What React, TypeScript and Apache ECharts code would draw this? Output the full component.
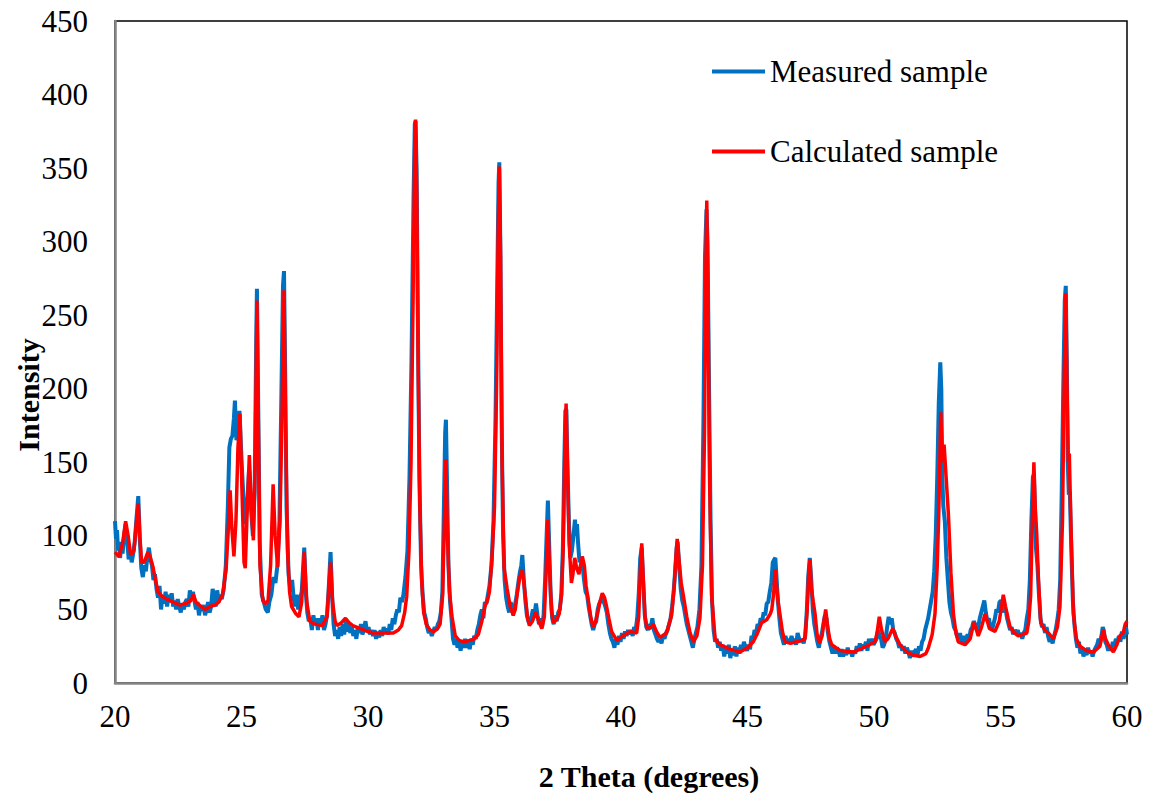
import { useEffect, useRef } from 'react';
import * as echarts from 'echarts';

const measuredSample: [number, number][] = [
  [20.0, 110], [20.04, 98], [20.08, 104], [20.12, 90], [20.16, 96], [20.2, 85], [20.25, 93], [20.3, 88],
  [20.36, 100], [20.42, 108], [20.48, 97], [20.54, 84], [20.6, 90], [20.66, 82], [20.72, 88], [20.78, 96],
  [20.85, 112], [20.92, 127], [20.98, 98], [21.04, 78], [21.1, 72], [21.16, 80], [21.22, 76], [21.28, 86],
  [21.34, 92], [21.4, 84], [21.46, 80], [21.52, 70], [21.58, 74], [21.64, 64], [21.7, 58], [21.76, 66],
  [21.82, 50], [21.88, 60], [21.94, 54], [22.0, 62], [22.06, 52], [22.12, 60], [22.18, 55], [22.24, 61],
  [22.3, 52], [22.36, 56], [22.42, 50], [22.48, 57], [22.54, 52], [22.6, 48], [22.66, 54], [22.72, 50],
  [22.78, 55], [22.84, 57], [22.9, 52], [22.96, 63], [23.02, 58], [23.08, 62], [23.14, 56], [23.2, 50],
  [23.26, 55], [23.32, 46], [23.38, 52], [23.44, 49], [23.5, 53], [23.56, 46], [23.62, 50], [23.68, 55],
  [23.74, 48], [23.8, 52], [23.86, 64], [23.92, 58], [23.98, 52], [24.04, 63], [24.1, 55], [24.16, 60],
  [24.22, 57], [24.3, 64], [24.38, 80], [24.46, 120], [24.52, 160], [24.58, 166], [24.64, 168], [24.7, 180],
  [24.74, 192], [24.8, 165], [24.86, 172], [24.92, 185], [24.98, 160], [25.04, 138], [25.1, 118], [25.16, 108],
  [25.22, 120], [25.3, 145], [25.38, 118], [25.45, 100], [25.52, 130], [25.58, 230], [25.61, 268], [25.66, 190],
  [25.72, 95], [25.8, 60], [25.88, 55], [25.96, 50], [26.04, 48], [26.1, 55], [26.18, 60], [26.26, 72],
  [26.34, 68], [26.42, 80], [26.5, 110], [26.58, 200], [26.64, 270], [26.68, 280], [26.72, 220], [26.78, 120],
  [26.86, 74], [26.94, 62], [27.0, 70], [27.06, 58], [27.12, 52], [27.18, 60], [27.24, 50], [27.3, 56],
  [27.38, 62], [27.44, 80], [27.48, 92], [27.54, 62], [27.6, 48], [27.66, 42], [27.72, 44], [27.78, 36],
  [27.84, 46], [27.9, 40], [27.96, 44], [28.02, 36], [28.08, 44], [28.14, 40], [28.2, 46], [28.26, 36],
  [28.32, 40], [28.38, 46], [28.44, 62], [28.52, 89], [28.58, 60], [28.64, 40], [28.7, 32], [28.76, 36],
  [28.82, 30], [28.88, 38], [28.94, 32], [29.0, 40], [29.06, 33], [29.12, 42], [29.18, 35], [29.24, 40],
  [29.3, 34], [29.36, 38], [29.42, 32], [29.48, 36], [29.54, 30], [29.6, 38], [29.66, 34], [29.72, 40],
  [29.78, 33], [29.84, 36], [29.9, 42], [29.96, 35], [30.02, 38], [30.08, 33], [30.14, 36], [30.2, 32],
  [30.26, 36], [30.32, 30], [30.38, 34], [30.44, 31], [30.5, 36], [30.56, 32], [30.62, 38], [30.68, 34],
  [30.74, 37], [30.8, 33], [30.86, 40], [30.92, 36], [30.98, 44], [31.04, 40], [31.1, 46], [31.16, 50],
  [31.22, 48], [31.28, 58], [31.34, 55], [31.4, 60], [31.48, 72], [31.56, 90], [31.64, 140], [31.72, 220],
  [31.8, 330], [31.85, 380], [31.88, 382], [31.92, 350], [31.97, 250], [32.03, 140], [32.1, 80], [32.16, 60],
  [32.22, 48], [32.28, 44], [32.34, 38], [32.4, 34], [32.46, 36], [32.52, 32], [32.58, 35], [32.64, 38],
  [32.7, 36], [32.76, 40], [32.82, 42], [32.88, 48], [32.94, 62], [33.0, 120], [33.05, 170], [33.08, 179],
  [33.12, 140], [33.18, 80], [33.24, 56], [33.3, 44], [33.36, 30], [33.42, 26], [33.48, 30], [33.54, 24],
  [33.6, 28], [33.66, 22], [33.72, 28], [33.78, 24], [33.84, 30], [33.9, 24], [33.96, 28], [34.02, 23],
  [34.08, 30], [34.14, 26], [34.2, 32], [34.26, 30], [34.32, 36], [34.38, 40], [34.44, 46], [34.5, 50],
  [34.56, 44], [34.62, 55], [34.68, 54], [34.74, 60], [34.8, 66], [34.88, 80], [34.96, 110], [35.04, 180],
  [35.1, 260], [35.16, 340], [35.19, 354], [35.23, 300], [35.28, 180], [35.34, 100], [35.4, 70], [35.46, 58],
  [35.52, 52], [35.58, 48], [35.64, 55], [35.7, 50], [35.76, 48], [35.82, 54], [35.88, 60], [35.94, 68],
  [36.0, 75], [36.06, 80], [36.1, 87], [36.16, 70], [36.22, 56], [36.28, 46], [36.34, 42], [36.4, 40],
  [36.46, 45], [36.52, 50], [36.58, 46], [36.64, 54], [36.7, 46], [36.76, 40], [36.82, 44], [36.88, 38],
  [36.94, 46], [37.0, 70], [37.06, 100], [37.11, 124], [37.16, 95], [37.22, 60], [37.28, 44], [37.34, 40],
  [37.4, 46], [37.46, 42], [37.52, 48], [37.58, 50], [37.64, 60], [37.7, 90], [37.76, 150], [37.8, 185],
  [37.84, 186], [37.88, 150], [37.94, 110], [38.0, 85], [38.06, 90], [38.12, 100], [38.18, 111], [38.22, 100],
  [38.26, 108], [38.3, 96], [38.36, 82], [38.42, 86], [38.48, 80], [38.54, 70], [38.6, 62], [38.66, 60],
  [38.72, 52], [38.78, 46], [38.84, 40], [38.9, 36], [38.96, 40], [39.02, 42], [39.08, 50], [39.14, 54],
  [39.2, 56], [39.26, 58], [39.32, 55], [39.38, 52], [39.44, 48], [39.5, 40], [39.56, 34], [39.62, 30],
  [39.68, 28], [39.74, 24], [39.8, 30], [39.86, 26], [39.92, 32], [39.98, 28], [40.04, 34], [40.1, 30],
  [40.16, 35], [40.22, 32], [40.28, 36], [40.34, 33], [40.4, 36], [40.46, 32], [40.52, 38], [40.58, 36],
  [40.64, 44], [40.7, 60], [40.76, 85], [40.82, 92], [40.88, 68], [40.94, 46], [41.0, 38], [41.06, 36],
  [41.12, 40], [41.18, 38], [41.24, 44], [41.3, 36], [41.36, 33], [41.42, 30], [41.48, 28], [41.54, 30],
  [41.6, 27], [41.66, 32], [41.72, 30], [41.78, 34], [41.84, 36], [41.9, 40], [41.96, 44], [42.02, 52],
  [42.08, 62], [42.14, 76], [42.2, 92], [42.24, 96], [42.3, 80], [42.36, 64], [42.42, 56], [42.48, 52],
  [42.54, 46], [42.6, 40], [42.66, 36], [42.72, 32], [42.78, 28], [42.84, 24], [42.9, 30], [42.96, 34],
  [43.02, 38], [43.1, 50], [43.18, 80], [43.26, 180], [43.32, 290], [43.38, 322], [43.42, 300], [43.48, 200],
  [43.54, 110], [43.6, 55], [43.66, 36], [43.72, 28], [43.78, 30], [43.84, 24], [43.9, 28], [43.96, 22],
  [44.02, 26], [44.08, 18], [44.14, 24], [44.2, 20], [44.26, 26], [44.32, 17], [44.38, 22], [44.44, 19],
  [44.5, 25], [44.56, 18], [44.62, 24], [44.68, 20], [44.74, 26], [44.8, 22], [44.86, 28], [44.92, 24],
  [44.98, 22], [45.04, 26], [45.1, 23], [45.16, 32], [45.22, 30], [45.28, 36], [45.34, 34], [45.4, 40],
  [45.46, 38], [45.52, 44], [45.58, 42], [45.64, 48], [45.7, 46], [45.76, 54], [45.82, 55], [45.88, 62],
  [45.94, 68], [46.0, 82], [46.06, 84], [46.1, 85], [46.14, 74], [46.2, 56], [46.26, 44], [46.32, 34],
  [46.38, 30], [46.44, 26], [46.5, 32], [46.56, 28], [46.62, 30], [46.68, 27], [46.74, 32], [46.8, 28],
  [46.86, 30], [46.92, 26], [46.98, 34], [47.04, 30], [47.1, 28], [47.16, 30], [47.22, 27], [47.28, 32],
  [47.34, 48], [47.4, 72], [47.46, 85], [47.52, 70], [47.58, 50], [47.64, 40], [47.7, 34], [47.76, 28],
  [47.82, 24], [47.88, 30], [47.94, 34], [48.0, 40], [48.06, 46], [48.12, 44], [48.18, 34], [48.24, 28],
  [48.3, 24], [48.36, 20], [48.42, 25], [48.48, 20], [48.54, 24], [48.6, 22], [48.66, 18], [48.72, 23],
  [48.78, 18], [48.84, 22], [48.9, 19], [48.96, 24], [49.02, 20], [49.08, 22], [49.14, 18], [49.2, 22],
  [49.26, 20], [49.32, 25], [49.38, 22], [49.44, 27], [49.5, 22], [49.56, 26], [49.62, 24], [49.68, 28],
  [49.74, 22], [49.8, 30], [49.86, 27], [49.92, 30], [49.98, 26], [50.04, 28], [50.1, 30], [50.16, 36],
  [50.22, 32], [50.28, 30], [50.34, 24], [50.4, 26], [50.46, 30], [50.52, 38], [50.58, 45], [50.64, 40],
  [50.7, 44], [50.76, 36], [50.82, 34], [50.88, 30], [50.94, 28], [51.0, 24], [51.06, 26], [51.12, 22],
  [51.18, 25], [51.24, 20], [51.3, 24], [51.36, 21], [51.42, 17], [51.48, 22], [51.54, 18], [51.6, 21],
  [51.66, 23], [51.72, 19], [51.78, 25], [51.84, 22], [51.9, 28], [51.96, 30], [52.02, 36], [52.08, 40],
  [52.14, 44], [52.2, 50], [52.26, 56], [52.32, 62], [52.38, 76], [52.44, 100], [52.5, 140], [52.56, 190],
  [52.62, 218], [52.66, 200], [52.7, 140], [52.74, 120], [52.8, 110], [52.86, 85], [52.92, 70], [52.98, 55],
  [53.04, 48], [53.1, 44], [53.16, 38], [53.22, 36], [53.28, 32], [53.34, 30], [53.4, 34], [53.46, 28],
  [53.52, 32], [53.58, 26], [53.64, 30], [53.7, 33], [53.76, 30], [53.82, 36], [53.88, 38], [53.94, 42],
  [54.0, 40], [54.06, 36], [54.12, 38], [54.18, 44], [54.24, 48], [54.3, 52], [54.36, 56], [54.42, 48],
  [54.48, 42], [54.54, 44], [54.6, 38], [54.66, 36], [54.72, 40], [54.78, 44], [54.84, 50], [54.9, 48],
  [54.96, 55], [55.02, 56], [55.08, 54], [55.14, 48], [55.2, 50], [55.26, 44], [55.32, 40], [55.38, 36],
  [55.44, 38], [55.5, 33], [55.56, 36], [55.62, 34], [55.68, 36], [55.74, 32], [55.8, 34], [55.86, 30],
  [55.92, 34], [55.98, 36], [56.04, 44], [56.1, 50], [56.16, 70], [56.22, 110], [56.28, 140], [56.32, 142],
  [56.36, 120], [56.4, 92], [56.46, 80], [56.52, 60], [56.58, 44], [56.64, 38], [56.7, 40], [56.76, 34],
  [56.82, 38], [56.88, 32], [56.94, 28], [57.0, 30], [57.06, 27], [57.12, 32], [57.18, 36], [57.24, 42],
  [57.3, 50], [57.36, 70], [57.42, 130], [57.48, 200], [57.54, 260], [57.58, 270], [57.62, 220], [57.66, 150],
  [57.7, 128], [57.74, 130], [57.8, 90], [57.86, 56], [57.92, 40], [57.98, 30], [58.04, 24], [58.1, 28],
  [58.16, 20], [58.22, 24], [58.28, 18], [58.34, 22], [58.4, 19], [58.46, 24], [58.52, 20], [58.58, 22],
  [58.64, 18], [58.7, 22], [58.76, 24], [58.82, 26], [58.88, 30], [58.94, 28], [59.0, 33], [59.04, 38],
  [59.08, 36], [59.14, 28], [59.2, 26], [59.26, 22], [59.32, 25], [59.38, 22], [59.44, 28], [59.5, 25],
  [59.56, 30], [59.62, 28], [59.68, 32], [59.74, 28], [59.8, 35], [59.86, 30], [59.92, 34], [59.96, 38],
  [60.0, 33],
];

const calculatedSample: [number, number][] = [
  [20.0, 89], [20.15, 86], [20.3, 95], [20.42, 110], [20.52, 100], [20.62, 87], [20.75, 90], [20.85, 110],
  [20.92, 122], [20.98, 100], [21.05, 82], [21.15, 82], [21.3, 89], [21.4, 85], [21.5, 79], [21.6, 70],
  [21.7, 62], [21.85, 59], [22.05, 57], [22.3, 55], [22.57, 53], [22.8, 54], [23.0, 56], [23.1, 60],
  [23.2, 55], [23.4, 52], [23.56, 50], [23.75, 52], [23.95, 53], [24.1, 55], [24.25, 60], [24.39, 77],
  [24.48, 105], [24.55, 131], [24.62, 105], [24.7, 86], [24.78, 110], [24.86, 160], [24.94, 183], [25.02, 130],
  [25.1, 82], [25.15, 78], [25.22, 115], [25.31, 155], [25.4, 115], [25.47, 97], [25.54, 150], [25.61, 260],
  [25.67, 170], [25.73, 80], [25.84, 56], [25.95, 54], [26.05, 56], [26.15, 80], [26.25, 135], [26.33, 100],
  [26.43, 79], [26.52, 110], [26.61, 190], [26.68, 267], [26.74, 180], [26.82, 90], [26.9, 62], [26.98, 52],
  [27.15, 47], [27.27, 45], [27.38, 55], [27.48, 89], [27.58, 55], [27.7, 42], [27.9, 40], [28.2, 39],
  [28.38, 45], [28.45, 65], [28.52, 82], [28.6, 55], [28.7, 42], [28.77, 39], [28.95, 41], [29.11, 44],
  [29.25, 41], [29.4, 39], [29.7, 37], [30.0, 35], [30.2, 34], [30.6, 34], [31.0, 34], [31.2, 36],
  [31.33, 39], [31.45, 48], [31.53, 59], [31.62, 90], [31.7, 150], [31.78, 260], [31.85, 370], [31.88, 383],
  [31.93, 330], [31.98, 220], [32.05, 120], [32.12, 70], [32.2, 48], [32.3, 40], [32.45, 36], [32.6, 35],
  [32.75, 37], [32.85, 40], [32.95, 60], [33.02, 110], [33.08, 152], [33.14, 100], [33.22, 62], [33.32, 45],
  [33.45, 32], [33.6, 29], [33.8, 28], [34.03, 29], [34.2, 30], [34.36, 33], [34.5, 42], [34.62, 52],
  [34.72, 56], [34.8, 62], [34.9, 85], [35.0, 120], [35.08, 200], [35.14, 300], [35.19, 351], [35.24, 290],
  [35.3, 150], [35.38, 78], [35.5, 64], [35.62, 52], [35.74, 46], [35.82, 50], [35.9, 61], [36.0, 72],
  [36.1, 77], [36.2, 62], [36.3, 45], [36.38, 39], [36.5, 42], [36.63, 48], [36.75, 42], [36.87, 37],
  [36.97, 45], [37.04, 75], [37.11, 111], [37.18, 75], [37.26, 48], [37.33, 41], [37.45, 43], [37.56, 47],
  [37.65, 60], [37.72, 95], [37.78, 160], [37.83, 190], [37.88, 150], [37.95, 95], [38.04, 68], [38.1, 74],
  [38.17, 85], [38.25, 78], [38.34, 74], [38.4, 80], [38.47, 86], [38.55, 80], [38.62, 66], [38.71, 56],
  [38.8, 45], [38.9, 38], [39.0, 42], [39.08, 48], [39.18, 56], [39.26, 61], [39.35, 58], [39.43, 52],
  [39.52, 44], [39.63, 35], [39.83, 29], [40.07, 32], [40.36, 35], [40.62, 34], [40.7, 45], [40.76, 75],
  [40.82, 95], [40.88, 70], [40.95, 45], [41.02, 38], [41.15, 37], [41.28, 40], [41.4, 35], [41.54, 31],
  [41.8, 34], [42.0, 46], [42.1, 65], [42.18, 88], [42.22, 98], [42.3, 82], [42.38, 68], [42.46, 60],
  [42.6, 45], [42.73, 34], [42.86, 28], [43.0, 32], [43.12, 44], [43.22, 80], [43.3, 170], [43.35, 280],
  [43.39, 328], [43.44, 260], [43.5, 140], [43.58, 60], [43.72, 30], [43.91, 26], [44.04, 25], [44.3, 23],
  [44.7, 21], [45.0, 24], [45.23, 28], [45.4, 34], [45.56, 41], [45.76, 43], [45.9, 47], [45.96, 50],
  [46.04, 62], [46.09, 77], [46.15, 66], [46.22, 54], [46.28, 47], [46.38, 35], [46.48, 28], [46.7, 27],
  [46.94, 28], [47.15, 29], [47.27, 30], [47.36, 50], [47.42, 75], [47.47, 84], [47.52, 65], [47.6, 55],
  [47.67, 47], [47.75, 33], [47.84, 27], [47.95, 32], [48.02, 42], [48.09, 50], [48.17, 38], [48.25, 30],
  [48.33, 26], [48.66, 22], [49.18, 21], [49.71, 25], [50.04, 28], [50.12, 34], [50.21, 45], [50.3, 36],
  [50.43, 28], [50.55, 30], [50.74, 37], [50.85, 32], [51.03, 26], [51.3, 21], [51.55, 19], [51.82, 18],
  [52.05, 20], [52.15, 24], [52.3, 33], [52.41, 47], [52.5, 80], [52.56, 115], [52.64, 184], [52.7, 150],
  [52.77, 162], [52.85, 140], [52.94, 115], [53.04, 75], [53.14, 47], [53.24, 34], [53.33, 28], [53.6, 26],
  [53.8, 30], [53.95, 41], [54.05, 36], [54.12, 32], [54.25, 38], [54.39, 47], [54.48, 42], [54.56, 37],
  [54.78, 35], [54.95, 42], [55.05, 53], [55.11, 60], [55.2, 52], [55.3, 44], [55.38, 38], [55.55, 34],
  [55.7, 32], [56.04, 34], [56.12, 42], [56.19, 59], [56.26, 110], [56.32, 150], [56.37, 120], [56.43, 102],
  [56.5, 70], [56.59, 41], [56.75, 36], [56.89, 34], [57.09, 30], [57.25, 38], [57.35, 52], [57.45, 110],
  [57.52, 210], [57.58, 265], [57.63, 200], [57.68, 150], [57.72, 156], [57.78, 110], [57.88, 47], [58.0, 30],
  [58.14, 25], [58.4, 22], [58.67, 21], [58.93, 25], [59.06, 36], [59.15, 30], [59.26, 26], [59.46, 21],
  [59.6, 26], [59.72, 32], [59.85, 34], [59.93, 40], [60.0, 42],
];

const seriesNames = ['Measured sample', 'Calculated sample'];
const xTitle = '2 Theta (degrees)';
const yTitle = 'Intensity';

const FONT = "'Liberation Serif', 'Times New Roman', serif";

export default function App() {
  const chartRef = useRef<HTMLDivElement>(null);

  useEffect(() => {
    if (!chartRef.current) return;
    const chart = echarts.init(chartRef.current, undefined, { renderer: 'svg' });

    chart.setOption({
      animation: false,
      backgroundColor: '#ffffff',
      grid: {
        left: 115,
        right: 24,
        top: 21,
        bottom: 115,
        show: true,
        borderColor: '#000000',
        borderWidth: 1.5,
      },
      legend: {
        data: seriesNames,
        orient: 'vertical',
        left: 712,
        top: 56,
        padding: 0,
        itemGap: 49,
        itemWidth: 53,
        itemHeight: 4,
        icon: 'rect',
        textStyle: { color: '#000000', fontSize: 31, fontFamily: FONT, padding: [0, 0, 0, 0] },
      },
      xAxis: {
        type: 'value',
        min: 20,
        max: 60,
        interval: 5,
        axisLine: { show: true, lineStyle: { color: '#868686', width: 2.5 } },
        axisTick: { show: false },
        splitLine: { show: false },
        axisLabel: { color: '#000000', fontSize: 31, fontFamily: FONT, margin: 18 },
      },
      yAxis: {
        type: 'value',
        min: 0,
        max: 450,
        interval: 50,
        axisLine: { show: true, lineStyle: { color: '#868686', width: 2.5 } },
        axisTick: { show: false },
        splitLine: { show: false },
        axisLabel: { color: '#000000', fontSize: 31, fontFamily: FONT, margin: 27 },
      },
      graphic: [
        {
          type: 'text',
          x: 649,
          y: 776,
          style: {
            text: xTitle,
            fill: '#000000',
            font: `bold 30px ${FONT}`,
            align: 'center',
            verticalAlign: 'middle',
          },
        },
        {
          type: 'text',
          x: 28,
          y: 395,
          rotation: Math.PI / 2,
          style: {
            text: yTitle,
            fill: '#000000',
            font: `bold 30px ${FONT}`,
            align: 'center',
            verticalAlign: 'middle',
          },
        },
      ],
      series: [
        {
          name: seriesNames[0],
          type: 'line',
          data: measuredSample,
          symbol: 'none',
          lineStyle: { color: '#0070C0', width: 4 },
          itemStyle: { color: '#0070C0' },
        },
        {
          name: seriesNames[1],
          type: 'line',
          data: calculatedSample,
          symbol: 'none',
          lineStyle: { color: '#FF0000', width: 3.5 },
          itemStyle: { color: '#FF0000' },
        },
      ],
    });

    return () => chart.dispose();
  }, []);

  return (
    <div
      ref={chartRef}
      style={{ position: 'fixed', left: 0, top: 0, width: 1151, height: 798, background: '#fff' }}
    />
  );
}
